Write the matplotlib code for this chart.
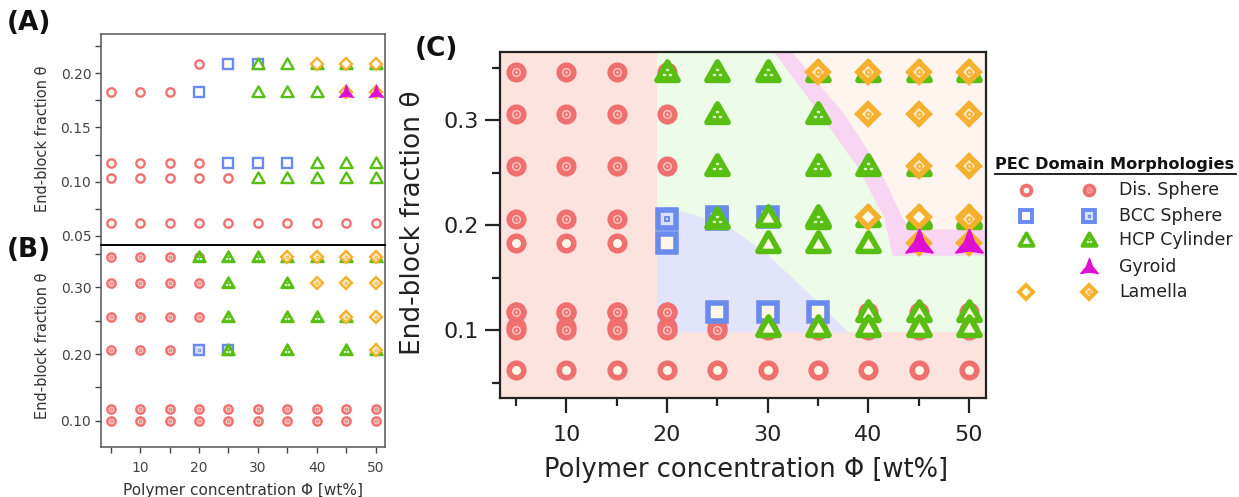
import matplotlib.pyplot as plt
import numpy as np
from matplotlib.path import Path

# ============================================================
# DATA  (x = polymer concentration [wt%], y = end-block fraction)
# ============================================================

# panel (A): open symbols
a_dis_x = [20, 25, 5, 10, 15, 5, 10, 15, 20, 25, 5, 10, 15, 20, 25,
           5, 10, 15, 20, 25, 30, 35, 40, 45, 50]
a_dis_y = [0.208, 0.208, 0.183, 0.183, 0.183,
           0.117, 0.117, 0.117, 0.117, 0.117,
           0.103, 0.103, 0.103, 0.103, 0.103,
           0.062, 0.062, 0.062, 0.062, 0.062, 0.062, 0.062, 0.062, 0.062, 0.062]
a_bcc_x = [25, 30, 20, 25, 30, 35]
a_bcc_y = [0.208, 0.208, 0.183, 0.117, 0.117, 0.117]
a_hcp_x = [30, 35, 40, 45, 50, 30, 35, 40, 40, 45, 50, 30, 35, 40, 45, 50]
a_hcp_y = [0.208, 0.208, 0.208, 0.208, 0.208, 0.183, 0.183, 0.183,
           0.117, 0.117, 0.117, 0.103, 0.103, 0.103, 0.103, 0.103]
a_gyr_x = [45, 50]
a_gyr_y = [0.183, 0.183]
a_lam_x = [40, 45, 50, 45, 50]
a_lam_y = [0.208, 0.208, 0.208, 0.183, 0.183]

# panel (B): dotted symbols
b_dis_x = [5, 10, 15, 20, 5, 10, 15, 20, 5, 10, 15, 20, 5, 10, 15,
           5, 10, 15, 20, 25, 30, 35, 40, 45, 50,
           5, 10, 15, 20, 25, 30, 35, 40, 45, 50]
b_dis_y = [0.346, 0.346, 0.346, 0.346, 0.306, 0.306, 0.306, 0.306,
           0.256, 0.256, 0.256, 0.256, 0.206, 0.206, 0.206,
           0.117, 0.117, 0.117, 0.117, 0.117, 0.117, 0.117, 0.117, 0.117, 0.117,
           0.100, 0.100, 0.100, 0.100, 0.100, 0.100, 0.100, 0.100, 0.100, 0.100]
b_bcc_x = [20, 25]
b_bcc_y = [0.206, 0.206]
b_hcp_x = [20, 25, 30, 35, 40, 45, 50, 25, 35, 25, 35, 40, 45, 25, 35, 45, 50]
b_hcp_y = [0.346, 0.346, 0.346, 0.346, 0.346, 0.346, 0.346, 0.306, 0.306,
           0.256, 0.256, 0.256, 0.256, 0.206, 0.206, 0.206, 0.206]
b_lam_x = [35, 40, 45, 50, 40, 45, 50, 45, 50, 50]
b_lam_y = [0.346, 0.346, 0.346, 0.346, 0.306, 0.306, 0.306, 0.256, 0.256, 0.206]

# panel (C): phase regions (boundaries in data units)
hcp_region = [(19.0, 0.098), (51.7, 0.098), (51.7, 0.365), (19.0, 0.365)]
bcc_region = [(19.0, 0.098), (19.0, 0.216), (22.0, 0.212), (26.0, 0.200),
              (30.0, 0.172), (34.0, 0.136), (38.0, 0.098)]
gyr_region = [(30.6, 0.365), (35.2, 0.306), (38.9, 0.256), (41.6, 0.207),
              (42.4, 0.171), (51.7, 0.171), (51.7, 0.196), (44.2, 0.196),
              (43.4, 0.207), (41.0, 0.256), (37.6, 0.306), (32.4, 0.365)]
lam_region = [(32.4, 0.365), (37.6, 0.306), (41.0, 0.256), (43.4, 0.207),
              (44.2, 0.196), (51.7, 0.196), (51.7, 0.365)]

legend_names = ["Dis. Sphere", "BCC Sphere", "HCP Cylinder", "Gyroid", "Lamella"]
legend_phases = ["dis", "bcc", "hcp", "gyr", "lam"]

# ============================================================
# STYLES
# ============================================================

COLORS = {"dis": "#F07070", "bcc": "#6A8BEE", "hcp": "#58BE12",
          "gyr": "#E00FD4", "lam": "#F5B12E"}
PALE = {"dis": "#FAD0CA", "bcc": "#D8E0FC", "hcp": "#58BE12",
        "gyr": "#E00FD4", "lam": "#FDE9C4"}

# wide triangle (closed) and a concave three-pointed star for gyroid
TRI = Path([(-1.0, -0.75), (1.0, -0.75), (0.0, 1.0), (-1.0, -0.75)], closed=True)
_ang = np.deg2rad(90 + 60 * np.arange(6))
_rad = np.where(np.arange(6) % 2 == 0, 1.0, 0.36)
_star = np.column_stack([_rad * np.cos(_ang), _rad * np.sin(_ang) - 0.1])
STAR = Path(np.vstack([_star, _star[:1]]), closed=True)

MARKERS = {"dis": "o", "bcc": "s", "hcp": TRI, "gyr": STAR, "lam": "D"}
SIZE = {"dis": 1.0, "bcc": 1.2, "hcp": 1.45, "gyr": 1.9, "lam": 1.0}
ZORD = {"dis": 3, "bcc": 4, "hcp": 5, "lam": 6, "gyr": 7}


def draw(ax, xs, ys, phase, dotted, ms, mew, face="white"):
    c = COLORS[phase]
    z = ZORD[phase]
    if phase == "gyr":
        ax.plot(xs, ys, ls="none", marker=MARKERS[phase], ms=ms * SIZE[phase],
                mfc=c, mec=c, mew=mew * 0.3, zorder=z, clip_on=False)
        return
    ax.plot(xs, ys, ls="none", marker=MARKERS[phase], ms=ms * SIZE[phase],
            mfc=PALE[phase] if dotted else face, mec=c, mew=mew, zorder=z,
            clip_on=False)
    if dotted:
        if phase == "hcp":
            ax.plot(xs, ys, ls="none", marker=r"$\therefore$", ms=ms * 0.5,
                    color="#D9F5C6", zorder=z + 0.1, clip_on=False)
        else:
            inner = "s" if phase == "bcc" else "o"
            ax.plot(xs, ys, ls="none", marker=inner, ms=ms * 0.3, mfc="none",
                    mec=c, mew=mew * 0.35, zorder=z + 0.1, clip_on=False)


def draw_set(ax, data, dotted, ms, mew, face="white"):
    for phase, xs, ys in data:
        draw(ax, xs, ys, phase, dotted, ms, mew, face)


set_a = [("dis", a_dis_x, a_dis_y), ("bcc", a_bcc_x, a_bcc_y),
         ("hcp", a_hcp_x, a_hcp_y), ("lam", a_lam_x, a_lam_y),
         ("gyr", a_gyr_x, a_gyr_y)]
set_b = [("dis", b_dis_x, b_dis_y), ("bcc", b_bcc_x, b_bcc_y),
         ("hcp", b_hcp_x, b_hcp_y), ("lam", b_lam_x, b_lam_y)]

# ============================================================
# FIGURE
# ============================================================

W, H = 1239, 497
fig = plt.figure(figsize=(W / 100, H / 100), dpi=100)
plt.rcParams["font.family"] = "DejaVu Sans"


def box(l, t, r, b):
    return [l / W, 1 - b / H, (r - l) / W, (b - t) / H]


XLIM = (3.35, 51.6)
GRAY = "#444444"

# ---- panel A ----
ax_a = fig.add_axes(box(101, 34, 385, 245))
draw_set(ax_a, set_a, False, 6.0, 1.7)
ax_a.set_xlim(XLIM)
ax_a.set_ylim(0.0417, 0.236)
ax_a.set_xticks(range(5, 55, 5))
ax_a.set_xticklabels([])
ax_a.set_yticks([0.05, 0.10, 0.15, 0.20])
ax_a.set_yticklabels(["0.05", "0.10", "0.15", "0.20"])
ax_a.set_yticks([0.075, 0.125, 0.175, 0.225], minor=True)

# ---- panel B ----
ax_b = fig.add_axes(box(101, 245, 385, 447))
draw_set(ax_b, set_b, True, 6.0, 1.7)
ax_b.set_xlim(XLIM)
ax_b.set_ylim(0.0606, 0.3634)
ax_b.set_xticks([10, 20, 30, 40, 50])
ax_b.set_xticks([5, 15, 25, 35, 45], minor=True)
ax_b.set_yticks([0.10, 0.20, 0.30])
ax_b.set_yticklabels(["0.10", "0.20", "0.30"])
ax_b.set_yticks([0.15, 0.25, 0.35], minor=True)

for ax in (ax_a, ax_b):
    for sp in ax.spines.values():
        sp.set_color("#555555")
        sp.set_linewidth(1.1)
    ax.tick_params(which="both", direction="out", colors=GRAY, labelsize=10,
                   length=4, width=1.0, pad=3)
ax_b.spines["top"].set_color("black")
ax_b.spines["top"].set_linewidth(1.4)
ax_b.tick_params(axis="x", pad=6)

fig.text(43 / W, 1 - 139 / H, "End-block fraction θ", rotation=90,
         ha="center", va="center", fontsize=10.5, color="#333333")
fig.text(43 / W, 1 - 346 / H, "End-block fraction θ", rotation=90,
         ha="center", va="center", fontsize=10.5, color="#333333")
fig.text(243 / W, 1 - 490 / H, "Polymer concentration Φ [wt%]",
         ha="center", va="center", fontsize=11, color="#333333")

# ---- panel C ----
ax_c = fig.add_axes(box(500, 52, 986, 398))
ax_c.set_facecolor("#FDE3DD")
ax_c.fill(*zip(*hcp_region), color="#EDFCE9", lw=0, zorder=0.5)
ax_c.fill(*zip(*bcc_region), color="#E1E4FA", lw=0, zorder=0.6)
ax_c.fill(*zip(*lam_region), color="#FFF4EE", lw=0, zorder=0.6)
ax_c.fill(*zip(*gyr_region), color="#F8D6F3", lw=0, zorder=0.7)
draw_set(ax_c, set_a, False, 10.5, 4.0, face="#FFF8E4")
draw_set(ax_c, set_b, True, 10.5, 4.0)
draw(ax_c, a_gyr_x, a_gyr_y, "gyr", False, 10.5, 4.0)
ax_c.set_xlim(XLIM[0] + 0.05, 51.7)
ax_c.set_ylim(0.0356, 0.365)
ax_c.set_xticks([10, 20, 30, 40, 50])
ax_c.set_xticks([5, 15, 25, 35, 45], minor=True)
ax_c.set_yticks([0.1, 0.2, 0.3])
ax_c.set_yticklabels(["0.1", "0.2", "0.3"])
ax_c.set_yticks([0.05, 0.15, 0.25, 0.35], minor=True)
for sp in ax_c.spines.values():
    sp.set_color("#222222")
    sp.set_linewidth(1.6)
    sp.set_zorder(10)
ax_c.tick_params(which="major", direction="out", length=10.5, width=1.6,
                 labelsize=16, colors="#222222")
ax_c.tick_params(which="minor", direction="out", length=5.5, width=1.6,
                 colors="#222222")
ax_c.tick_params(axis="x", which="major", pad=9)
ax_c.tick_params(axis="y", which="major", pad=5)

fig.text(413 / W, 1 - 223 / H, "End-block fraction θ", rotation=90,
         ha="center", va="center", fontsize=19, color="#222222")
fig.text(746 / W, 1 - 470 / H, "Polymer concentration Φ [wt%]",
         ha="center", va="center", fontsize=18.5, color="#222222")

# ---- panel labels ----
for lbl, x, y in (("(A)", 7, 23), ("(B)", 7, 250), ("(C)", 415, 49)):
    fig.text(x / W, 1 - y / H, lbl, ha="left", va="center", fontsize=19,
             fontweight="bold", color="#111111")

# ============================================================
# LEGEND (drawn on an overlay in pixel units)
# ============================================================

ov = fig.add_axes([0, 0, 1, 1], zorder=20)
ov.set_xlim(0, W)
ov.set_ylim(H, 0)
ov.axis("off")
ov.patch.set_alpha(0)

ov.text(995, 165, "PEC Domain Morphologies", ha="left", va="center",
        fontsize=11.6, fontweight="bold", color="#111111")
ov.plot([995, 1236], [174, 174], color="#111111", lw=1.3)
row_y = [190, 216, 240, 267, 292]
for name, phase, y in zip(legend_names, legend_phases, row_y):
    if phase != "gyr":
        draw(ov, [1026], [y], phase, False, 7.0, 2.8)
    draw(ov, [1089], [y], phase, True, 7.0, 2.8)
    ov.text(1119, y, name, ha="left", va="center", fontsize=12.5,
            color="#222222")

fig.savefig("out.png", dpi=100)
